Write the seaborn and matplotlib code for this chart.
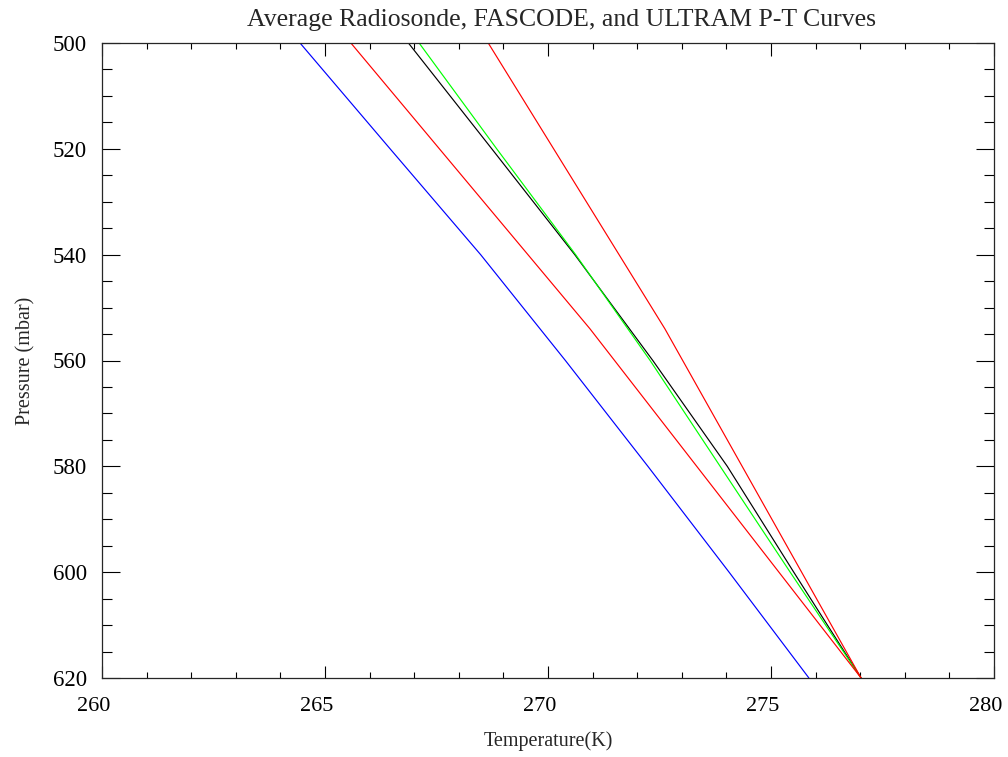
import matplotlib
matplotlib.use("Agg")
import matplotlib.pyplot as plt
import matplotlib.transforms as mtransforms
from matplotlib.ticker import MultipleLocator
import seaborn as sns
import pandas as pd

# pressure levels (mbar)
p_levels = [500, 520, 540, 560, 580, 600, 620]
p_kink = [500, 554, 620]

# temperatures (K)
t_radiosonde = [266.87, 268.74, 270.60, 272.35, 274.02, 275.51, 277.02]
t_fascode = [264.44, 266.46, 268.49, 270.39, 272.24, 274.06, 275.85]
t_ultram = [267.11, 268.85, 270.62, 272.29, 273.86, 275.43, 277.02]
t_lower = [265.58, 270.94, 277.02]
t_upper = [268.66, 272.62, 277.02]

frames = [
    pd.DataFrame({"T": t_radiosonde, "P": p_levels, "curve": "radiosonde"}),
    pd.DataFrame({"T": t_fascode, "P": p_levels, "curve": "fascode"}),
    pd.DataFrame({"T": t_ultram, "P": p_levels, "curve": "ultram"}),
    pd.DataFrame({"T": t_lower, "P": p_kink, "curve": "lower"}),
    pd.DataFrame({"T": t_upper, "P": p_kink, "curve": "upper"}),
]
df = pd.concat(frames, ignore_index=True)
palette = {"radiosonde": "black", "fascode": "#0000ff", "ultram": "#00ff00",
           "lower": "#ff0000", "upper": "#ff0000"}

sns.set_style("ticks")
plt.rcParams['font.family'] = ['Liberation Serif', 'DejaVu Serif']

fig, ax = plt.subplots(figsize=(10.08, 7.57), dpi=100)
fig.subplots_adjust(left=102/1008, right=994/1008, top=1-43/757, bottom=1-678/757)

sns.lineplot(data=df, x="T", y="P", hue="curve", palette=palette, sort=False,
             estimator=None, legend=False, linewidth=0.85, ax=ax)

ax.set_xlim(260, 280)
ax.set_ylim(620, 500)
ax.xaxis.set_major_locator(MultipleLocator(5))
ax.xaxis.set_minor_locator(MultipleLocator(1))
ax.yaxis.set_major_locator(MultipleLocator(20))
ax.yaxis.set_minor_locator(MultipleLocator(5))

ax.tick_params(which='both', direction='in', top=True, right=True, width=0.8, colors='black')
ax.tick_params(axis='x', which='major', length=9, pad=14, labelsize=16)
ax.tick_params(axis='x', which='minor', length=4.5)
ax.tick_params(axis='y', which='major', length=13, pad=11, labelsize=16.5)
ax.tick_params(axis='y', which='minor', length=7)
for s in ax.spines.values():
    s.set_linewidth(0.9)

# x labels sit a little left of their ticks in the original
shift = mtransforms.ScaledTranslation(-8/100, 0, fig.dpi_scale_trans)
for lab in ax.get_xticklabels():
    lab.set_transform(lab.get_transform() + shift)

ax.set_title("Average Radiosonde, FASCODE, and ULTRAM P-T Curves", fontsize=18.5,
             pad=12, x=0.515)
ax.set_xlabel("Temperature(K)", fontsize=14.5, labelpad=11)
ax.set_ylabel("Pressure (mbar)", fontsize=14.5, labelpad=12)

fig.savefig("out.png", dpi=100)
